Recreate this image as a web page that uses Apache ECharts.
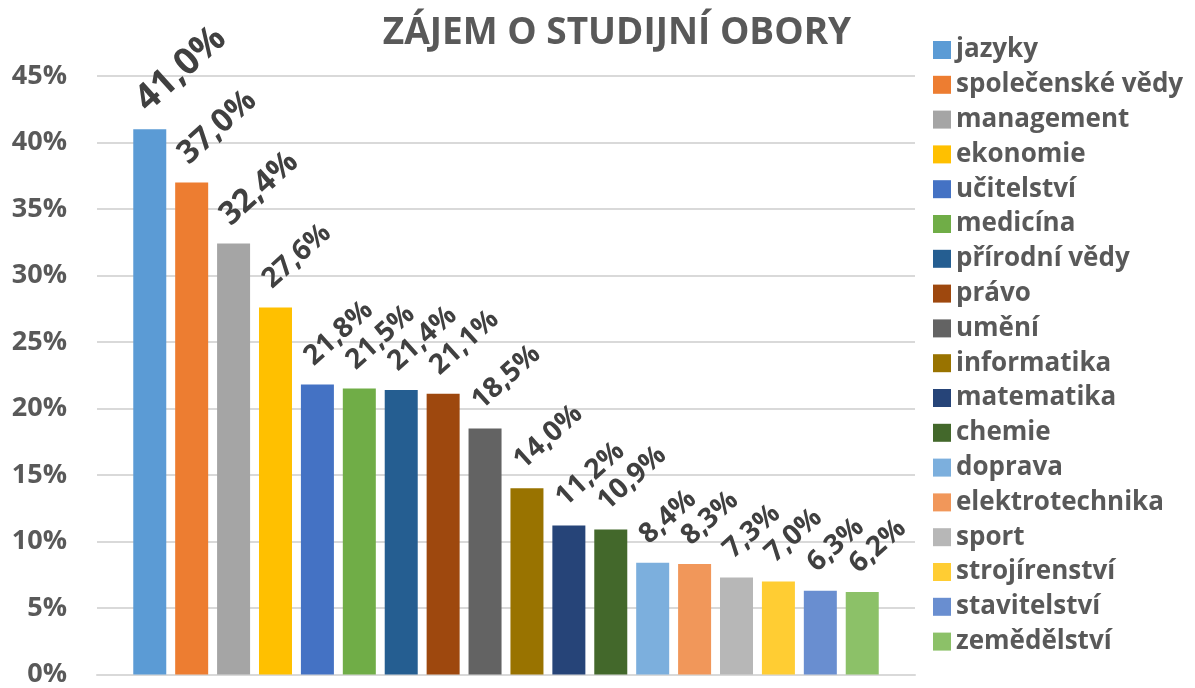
<!DOCTYPE html>
<html>
<head>
<meta charset="utf-8">
<script src="https://cdn.jsdelivr.net/npm/echarts@6/dist/echarts.min.js"></script>
<style>
  html, body { margin: 0; padding: 0; background: #fff; }
  #chart { width: 1195px; height: 688px; }
</style>
</head>
<body>
<div id="chart"></div>
<script>
// obory a jejich podíly (%)
const obory = ['jazyky', 'společenské vědy', 'management', 'ekonomie', 'učitelství', 'medicína',
  'přírodní vědy', 'právo', 'umění', 'informatika', 'matematika', 'chemie', 'doprava',
  'elektrotechnika', 'sport', 'strojírenství', 'stavitelství', 'zemědělství'];
const podily = [41.0, 37.0, 32.4, 27.6, 21.8, 21.5, 21.4, 21.1, 18.5, 14.0, 11.2, 10.9,
  8.4, 8.3, 7.3, 7.0, 6.3, 6.2];
const osaY = [0, 5, 10, 15, 20, 25, 30, 35, 40, 45];

// barvy (Office téma)
const barvy = ['#5B9BD5', '#ED7D31', '#A5A5A5', '#FFC000', '#4472C4', '#70AD47', '#255E91',
  '#9E480E', '#636363', '#997300', '#264478', '#43682B', '#7CAFDD', '#F1975A', '#B7B7B7',
  '#FFCD33', '#698ED0', '#8CC168'];
const velikostPopisku = [37, 32, 32, 28, 28, 28, 28, 28, 28, 28, 28, 28, 28, 28, 28, 28, 28, 28];

const font = '"Open Sans", sans-serif';
const sedaText = '#595959';

const chart = echarts.init(document.getElementById('chart'));

const series = obory.map((name, i) => ({
  name,
  type: 'bar',
  data: [podily[i]],
  barWidth: 33,
  barGap: '27%',
  itemStyle: { color: barvy[i] },
  label: {
    show: true,
    position: 'top',
    rotate: 42,
    align: 'left',
    verticalAlign: 'middle',
    distance: 32,
    offset: [-12, 0],
    fontFamily: font,
    fontWeight: 'bold',
    fontSize: velikostPopisku[i],
    color: '#404040',
    formatter: p => p.value.toFixed(1).replace('.', ',') + '%'
  }
}));

chart.setOption({
  animation: false,
  title: {
    text: 'ZÁJEM O STUDIJNÍ OBORY',
    left: 612,
    textAlign: 'center',
    top: 10,
    textStyle: { fontFamily: font, fontWeight: 'bold', fontSize: 37, color: sedaText }
  },
  legend: {
    orient: 'vertical',
    left: 933,
    top: 37,
    padding: 0,
    itemWidth: 18,
    itemHeight: 18,
    itemGap: 8.8,
    icon: 'rect',
    textStyle: { fontFamily: font, fontWeight: 'bold', fontSize: 26, lineHeight: 26, color: sedaText },
    data: obory
  },
  grid: { left: 97, right: 280, top: 76, bottom: 8, containLabel: false },
  xAxis: {
    type: 'category',
    data: [''],
    axisLine: { lineStyle: { color: '#D9D9D9', width: 2 } },
    axisTick: { show: false },
    axisLabel: { show: false }
  },
  yAxis: {
    type: 'value',
    min: osaY[0],
    max: osaY[osaY.length - 1],
    interval: 5,
    axisLine: { show: false },
    axisTick: { show: false },
    splitLine: { lineStyle: { color: '#D9D9D9', width: 2 } },
    axisLabel: {
      margin: 30,
      fontFamily: font,
      fontWeight: 'bold',
      fontSize: 27,
      color: sedaText,
      formatter: '{value}%'
    }
  },
  series
});
</script>
</body>
</html>
